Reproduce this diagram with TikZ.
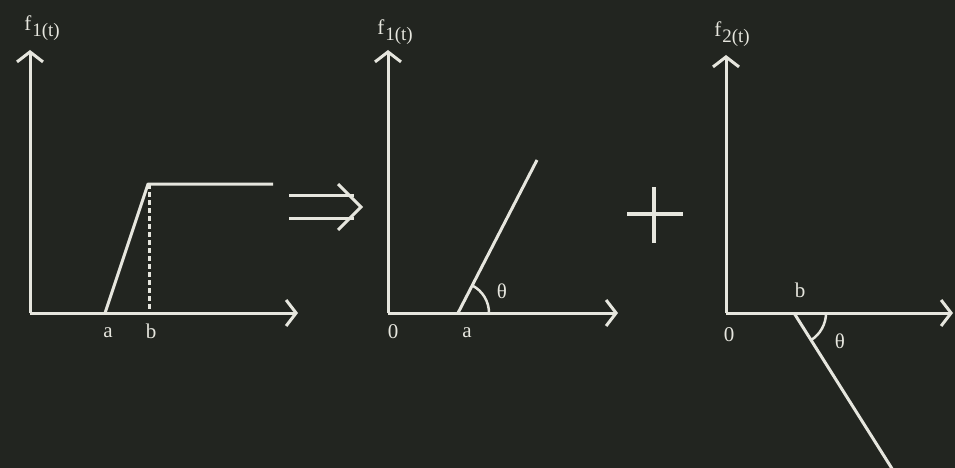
\documentclass[tikz,border=0pt]{standalone}
\usepackage{fontspec}
\setmainfont{Liberation Serif}
\usetikzlibrary{arrows.meta}
\definecolor{bg}{HTML}{222520}
\definecolor{chalk}{HTML}{E6E6DE}
\newcommand{\fsub}[1]{f\kern1pt\raisebox{-6pt}{\fontsize{19}{19}\selectfont #1}}
\begin{document}
\begin{tikzpicture}[x=1pt,y=-1pt,
  ln/.style={draw=chalk,line width=3pt},
  ax/.style={ln,-{Straight Barb[length=10pt,width=26pt,line width=3pt]}},
  lbl/.style={text=chalk,font=\fontsize{21}{23}\selectfont,inner sep=0pt}]
\fill[bg] (0,0) rectangle (955,468);
\useasboundingbox (0,0) rectangle (955,468);
\clip (0,0) rectangle (955,468);
% panel 1
\coordinate (o1) at (30,313);
\coordinate (y1) at (30,50);
\coordinate (x1) at (298,313);
\coordinate (a1) at (105,313);
\coordinate (t1) at (148,184);
\coordinate (e1) at (273,184);
\coordinate (b1) at (149,313);
\draw[ax] (o1) -- (y1);
\draw[ax] (o1) -- (x1);
\draw[ln,line join=round] (a1) -- (t1) -- (e1);
\draw[ln,dash pattern=on 5pt off 3pt] (149,184) -- (b1);
\node[lbl] (f1) at (42,28) {\fsub{1(t)}};
\node[lbl] (la1) at (108,333) {a};
\node[lbl] (lb1) at (151,331) {b};
% implies arrow
\coordinate (i1) at (289,195);
\coordinate (i2) at (354,195);
\coordinate (i3) at (289,218);
\coordinate (i4) at (354,218);
\coordinate (ic1) at (338,184);
\coordinate (ic2) at (361,207);
\coordinate (ic3) at (338,230);
\draw[ln] (i1) -- (i2);
\draw[ln] (i3) -- (i4);
\draw[ln,line join=miter] (ic1) -- (ic2) -- (ic3);
% panel 2
\coordinate (o2) at (388,313);
\coordinate (y2) at (388,50);
\coordinate (x2) at (618,313);
\coordinate (a2) at (458,313);
\coordinate (e2) at (537,160);
\draw[ax] (o2) -- (y2);
\draw[ax] (o2) -- (x2);
\draw[ln] (a2) -- (e2);
\draw[draw=chalk,line width=2.5pt] ([xshift=31pt]a2) arc[start angle=0,end angle=62,radius=31pt];
\node[lbl] (f2) at (395,32) {\fsub{1(t)}};
\node[lbl] (l02) at (393,332) {0};
\node[lbl] (la2) at (467,333) {a};
\node[lbl] (th2) at (502,291) {θ};
% plus
\coordinate (p1) at (627,214);
\coordinate (p2) at (683,214);
\coordinate (p3) at (654,187);
\coordinate (p4) at (654,243);
\draw[draw=chalk,line width=4.5pt] (p1) -- (p2);
\draw[draw=chalk,line width=4.5pt] (p3) -- (p4);
% panel 3
\coordinate (o3) at (726,313);
\coordinate (y3) at (726,55);
\coordinate (x3) at (953,313);
\coordinate (b3) at (794,313);
\coordinate (e3) at (896,475);
\draw[ax] (o3) -- (y3);
\draw[ax] (o3) -- (x3);
\draw[ln] (b3) -- (e3);
\draw[draw=chalk,line width=2.5pt] ([xshift=32pt]b3) arc[start angle=0,end angle=-58,radius=32pt];
\node[lbl] (f3) at (732,34) {\fsub{2(t)}};
\node[lbl] (lb3) at (800,290) {b};
\node[lbl] (l03) at (729,335) {0};
\node[lbl] (th3) at (840,341) {θ};
\end{tikzpicture}
\end{document}
